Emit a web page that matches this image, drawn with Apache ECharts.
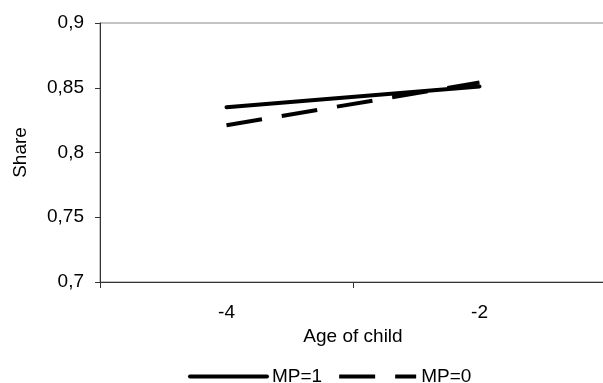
<!DOCTYPE html>
<html>
<head>
<meta charset="utf-8">
<script src="https://cdn.jsdelivr.net/npm/echarts@6/dist/echarts.min.js"></script>
<style>
  html, body { margin: 0; padding: 0; background: #fff; }
  #chart { width: 603px; height: 383px; }
</style>
</head>
<body>
<div id="chart"></div>
<script>
// data
var ages = ["-4", "-2"];
var mp1 = [0.835, 0.851];
var mp0 = [0.821, 0.854];

var font = "Liberation Sans, Arial, sans-serif";
var chart = echarts.init(document.getElementById("chart"));

var option = {
  animation: false,
  textStyle: { fontFamily: font, color: "#000" },
  grid: {
    left: 100,
    top: 23,
    right: -3,
    bottom: 101,
    outerBoundsMode: "none",
    containLabel: false,
    show: true,
    borderColor: "#888",
    borderWidth: 1,
  },
  legend: {
    left: 183,
    bottom: -8,
    itemWidth: 77,
    itemHeight: 14,
    itemGap: 15,
    itemStyle: { opacity: 0 },
    lineStyle: { width: 4 },
    textStyle: { fontFamily: font, fontSize: 19, color: "#000" },
    data: ["MP=1", "MP=0"],
  },
  xAxis: {
    type: "category",
    data: ages,
    boundaryGap: true,
    name: "Age of child",
    nameLocation: "middle",
    nameGap: 44,
    nameTextStyle: { fontSize: 19, color: "#000" },
    axisLine: { lineStyle: { color: "#333", width: 1 } },
    axisTick: { show: true, length: 6, lineStyle: { color: "#333" } },
    axisLabel: { fontSize: 19, color: "#000", margin: 21 },
    splitLine: { show: false },
  },
  yAxis: {
    type: "value",
    min: 0.7,
    max: 0.9,
    interval: 0.05,
    name: "Share",
    nameLocation: "middle",
    nameGap: 70,
    nameTextStyle: { fontSize: 19, color: "#000" },
    axisLine: { show: true, lineStyle: { color: "#333", width: 1 } },
    axisTick: { show: true, length: 5, lineStyle: { color: "#333" } },
    axisLabel: {
      fontSize: 19,
      color: "#000",
      margin: 16,
      formatter: function (v) {
        return String(Math.round(v * 100) / 100).replace(".", ",");
      },
    },
    splitLine: { show: false },
  },
  series: [
    {
      name: "MP=1",
      type: "line",
      data: mp1,
      symbol: "none",
      lineStyle: { color: "#000", width: 4, cap: "round" },
      itemStyle: { color: "#000" },
    },
    {
      name: "MP=0",
      type: "line",
      data: mp0,
      symbol: "none",
      lineStyle: { color: "#000", width: 4, type: [36, 20], cap: "butt" },
      itemStyle: { color: "#000" },
    },
  ],
};

chart.setOption(option);
</script>
</body>
</html>
